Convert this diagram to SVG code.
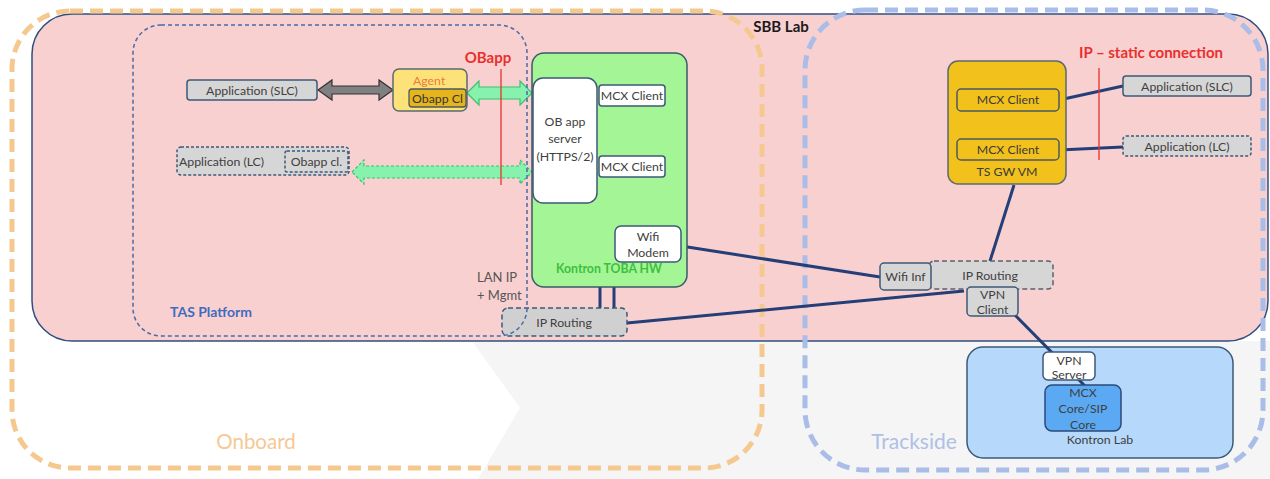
<svg xmlns="http://www.w3.org/2000/svg" width="1270" height="479" viewBox="0 0 1270 479">
  <style>
    text { font-family: Lato, "Liberation Sans", sans-serif; fill: #404040; }
    .t12 { font-size: 12.3px; }
    .mid { text-anchor: middle; }
    .box { stroke: #3e5878; stroke-width: 1.5; }
    .grey { fill: #d6d6d6; }
    .dash { stroke-dasharray: 3 2; }
    .link { stroke: #243f78; stroke-width: 3; fill: none; }
    .red { fill: #e8302e; font-weight: bold; font-size: 15px; }
  </style>

  <!-- background -->
  <rect x="0" y="0" width="1270" height="479" fill="#ffffff"/>
  <polygon points="472,341 520,408 478,479 1270,479 1270,341" fill="#f5f5f5"/>

  <!-- SBB Lab area -->
  <g id="sbb-lab">
    <rect x="32" y="14" width="1236" height="327" rx="40" fill="#f9d0d0" stroke="#2f4f80" stroke-width="1.5"/>
    <text x="781" y="32" class="mid" style="font-size:15px;font-weight:bold;fill:#1a1a1a">SBB Lab</text>
  </g>

  <!-- Kontron Lab -->
  <g id="kontron-lab">
    <rect x="967" y="347" width="266" height="111" rx="16" fill="#b6d9fb" stroke="#3a5a7a" stroke-width="1.5"/>
    <text x="1100" y="444" class="t12 mid">Kontron Lab</text>
  </g>

  <!-- zones -->
  <g id="zone-onboard">
    <rect x="12" y="11" width="750" height="457" rx="58" fill="none" stroke="#f5c890" stroke-width="5" stroke-dasharray="13 7"/>
    <text x="256" y="449" class="mid" style="font-size:20.5px;fill:#f5c896">Onboard</text>
  </g>
  <g id="zone-trackside">
    <rect x="805" y="10" width="458" height="460" rx="60" fill="none" stroke="#aabde8" stroke-width="5" stroke-dasharray="13 7"/>
    <text x="914" y="449" class="mid" style="font-size:21px;fill:#afc0e6">Trackside</text>
  </g>

  <!-- connectors -->
  <g id="connectors">
    <line class="link" x1="681" y1="246" x2="880" y2="277"/>
    <line class="link" x1="627" y1="323" x2="964" y2="291"/>
    <line class="link" x1="1014" y1="185" x2="990" y2="261"/>
    <line class="link" x1="1015" y1="315" x2="1085" y2="386"/>
    <line class="link" x1="600" y1="287" x2="600" y2="309"/>
    <line class="link" x1="614" y1="287" x2="614" y2="309"/>
    <line class="link" x1="1059" y1="100" x2="1123" y2="86"/>
    <line class="link" x1="1059" y1="150" x2="1123" y2="147"/>
    <!-- double arrows -->
    <path d="M318,90 L332,80 L332,86 L379,86 L379,80 L393,90 L379,100 L379,94 L332,94 L332,100 Z" fill="#808080" stroke="#333333" stroke-width="1.2"/>
    <path d="M467,93 L479,81 L479,87 L520,87 L520,81 L532,93 L520,105 L520,99 L479,99 L479,105 Z" fill="#86f2ae" stroke="#3fbf6f" stroke-width="1.2"/>
    <path d="M352,172 L364,160 L364,166 L520,166 L520,160 L532,172 L520,184 L520,178 L364,178 L364,184 Z" fill="#86f2ae" stroke="#3fbf6f" stroke-width="1.2" stroke-dasharray="3 2"/>
  </g>

  <!-- static connection markers -->
  <g id="obapp-marker">
    <line x1="501" y1="69" x2="501" y2="185" stroke="#e8302e" stroke-width="1.3"/>
    <text x="488" y="63" class="red mid">OBapp</text>
  </g>
  <g id="ip-static-marker">
    <line x1="1099" y1="68" x2="1099" y2="160" stroke="#e8302e" stroke-width="1.3"/>
    <text x="1151" y="58" class="red mid">IP – static connection</text>
  </g>

  <!-- onboard nodes -->
  <g id="app-slc-onboard">
    <rect x="187" y="80" width="130" height="20" rx="3" class="box grey"/>
    <text x="252" y="94.5" class="t12 mid">Application (SLC)</text>
  </g>
  <g id="agent">
    <rect x="393" y="69" width="74" height="42" rx="6" fill="#fde27a" stroke="#5a6a70" stroke-width="1.5"/>
    <text x="413" y="85" class="t12" style="fill:#ef7a3a">Agent</text>
    <rect x="409" y="89" width="57" height="18" rx="3" fill="#e6b51e" stroke="#4a5a60" stroke-width="1.3"/>
    <text x="437.5" y="102.5" class="t12 mid" style="fill:#333">Obapp Cl</text>
  </g>
  <g id="app-lc-onboard">
    <rect x="177" y="147" width="172" height="28" rx="4" class="box grey dash"/>
    <text x="179" y="166" class="t12">Application (LC)</text>
    <rect x="285" y="151" width="63" height="21" rx="2" class="box grey dash"/>
    <text x="316.5" y="166" class="t12 mid">Obapp cl.</text>
  </g>

  <g id="ip-routing-onboard">
    <rect x="502" y="308" width="125" height="28" rx="6" class="box" fill="#d0d0d0" stroke-dasharray="5 3"/>
    <text x="564" y="327" class="t12 mid">IP Routing</text>
  </g>

  <g id="tas-platform">
    <rect x="133" y="25" width="394" height="311" rx="28" fill="none" stroke="#4a6aa8" stroke-width="1.5" stroke-dasharray="4 3"/>
    <text x="170" y="317" style="font-size:14px;font-weight:bold;fill:#3f6cc0">TAS Platform</text>
    <text x="477" y="282" style="font-size:13px;fill:#555">LAN IP</text>
    <text x="477" y="300" style="font-size:13px;fill:#555">+ Mgmt</text>
  </g>

  <g id="kontron-toba-hw">
    <rect x="532" y="53" width="155" height="234" rx="12" fill="#a4f595" stroke="#3a5a6a" stroke-width="1.5"/>
    <text x="609" y="273" class="t12 mid" style="fill:#3cc040;font-weight:bold">Kontron TOBA HW</text>
  </g>
  <g id="ob-app-server">
    <rect x="533" y="78" width="64" height="125" rx="10" fill="#ffffff" class="box"/>
    <text x="565" y="126" class="t12 mid">OB app</text>
    <text x="565" y="143" class="t12 mid">server</text>
    <text x="565" y="161" class="t12 mid">(HTTPS/2)</text>
  </g>
  <g id="mcx-client-1">
    <rect x="599" y="85" width="66" height="21" rx="3" fill="#ffffff" class="box"/>
    <text x="632" y="100" class="t12 mid">MCX Client</text>
  </g>
  <g id="mcx-client-2">
    <rect x="599" y="156" width="66" height="21" rx="3" fill="#ffffff" class="box"/>
    <text x="632" y="171" class="t12 mid">MCX Client</text>
  </g>
  <g id="wifi-modem">
    <rect x="615" y="226" width="66" height="36" rx="6" fill="#ffffff" class="box"/>
    <text x="648" y="241" class="t12 mid">Wifi</text>
    <text x="648" y="257" class="t12 mid">Modem</text>
  </g>

  <!-- trackside nodes -->
  <g id="ts-gw-vm">
    <rect x="948" y="61" width="118" height="123" rx="10" fill="#f2c11c" stroke="#5a6a70" stroke-width="1.5"/>
    <text x="1007" y="176" class="t12 mid" style="fill:#3a3a3a">TS GW VM</text>
  </g>
  <g id="mcx-client-ts-1">
    <rect x="957" y="89" width="102" height="22" rx="4" fill="#f2c11c" stroke="#4a5a60" stroke-width="1.5"/>
    <text x="1008" y="104" class="t12 mid" style="fill:#3a3a3a">MCX Client</text>
  </g>
  <g id="mcx-client-ts-2">
    <rect x="957" y="139" width="102" height="21" rx="4" fill="#f2c11c" stroke="#4a5a60" stroke-width="1.5"/>
    <text x="1008" y="154" class="t12 mid" style="fill:#3a3a3a">MCX Client</text>
  </g>
  <g id="app-slc-trackside">
    <rect x="1123" y="76" width="128" height="20" rx="3" class="box grey"/>
    <text x="1187" y="90.5" class="t12 mid">Application (SLC)</text>
  </g>
  <g id="app-lc-trackside">
    <rect x="1123" y="136" width="128" height="20" rx="3" class="box grey dash"/>
    <text x="1187" y="150.5" class="t12 mid">Application (LC)</text>
  </g>
  <g id="ip-routing-trackside">
    <rect x="929" y="261" width="124" height="28" rx="5" fill="#d6d6d6" stroke="#5a6070" stroke-width="1.5" stroke-dasharray="5 3"/>
    <text x="990" y="280" class="t12 mid">IP Routing</text>
  </g>
  <g id="wifi-inf">
    <rect x="880" y="263" width="51" height="27" rx="4" class="box grey"/>
    <text x="905.5" y="281" class="t12 mid">Wifi Inf</text>
  </g>
  <g id="vpn-client">
    <rect x="967" y="287" width="51" height="29" rx="4" class="box grey"/>
    <text x="992.5" y="299" class="t12 mid">VPN</text>
    <text x="992.5" y="314" class="t12 mid">Client</text>
  </g>
  <g id="vpn-server">
    <rect x="1043" y="352" width="52" height="28" rx="5" fill="#ffffff" class="box"/>
    <text x="1069" y="365" class="t12 mid">VPN</text>
    <text x="1069" y="379" class="t12 mid">Server</text>
  </g>
  <g id="mcx-core">
    <rect x="1045" y="385" width="76" height="46" rx="7" fill="#5aa9f2" stroke="#2a4a7a" stroke-width="1.5"/>
    <text x="1083" y="397" class="t12 mid">MCX</text>
    <text x="1083" y="413" class="t12 mid">Core/SIP</text>
    <text x="1083" y="429" class="t12 mid">Core</text>
  </g>
</svg>
